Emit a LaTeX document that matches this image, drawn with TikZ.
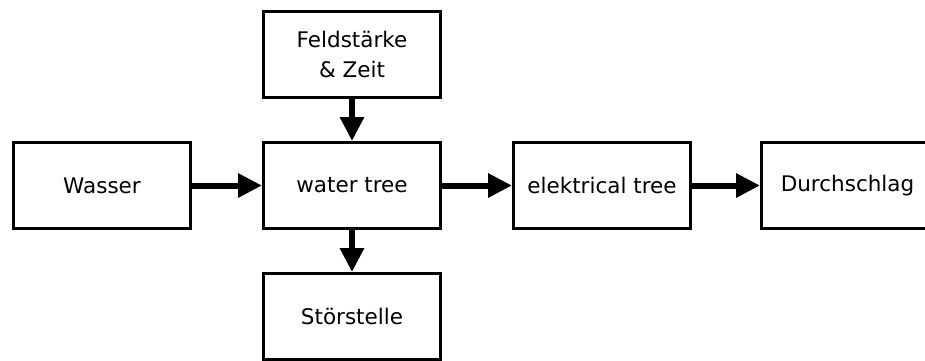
\documentclass[tikz,border=0pt]{standalone}
\usepackage{fontspec}
\setmainfont{DejaVu Sans}
\usetikzlibrary{positioning,arrows.meta}

\begin{document}
\begin{tikzpicture}[x=1pt,y=1pt,>={Triangle[length=24pt,width=23pt]},
    box/.style={draw,line width=3pt,minimum width=177pt,minimum height=86pt,
        align=center,font=\fontsize{21.5}{30}\selectfont},
    node distance=42pt and 70pt]
    \clip (0,0) rectangle (925,360);
    \fill[white] (0,0) rectangle (925,360);

    \node[box] (tree) at (352,174.5) {water tree};
    \node[box,left=of tree] (wasser) {Wasser};
    \node[box,above=of tree] (feld) {Feldstärke\\\& Zeit};
    \node[box,below=of tree] (stoer) {Störstelle};
    \node[box,right=of tree] (etree) {elektrical tree};
    \node[box,minimum width=172pt,right=68pt of etree] (durch) {Durchschlag};

    \path[line width=6pt]
    (wasser)    edge[->]    (tree)
    (feld)      edge[->]    (tree)
    (tree)      edge[->]    (stoer)
    (tree)      edge[->]    (etree)
    (etree)     edge[->]    (durch);
\end{tikzpicture}
\end{document}
